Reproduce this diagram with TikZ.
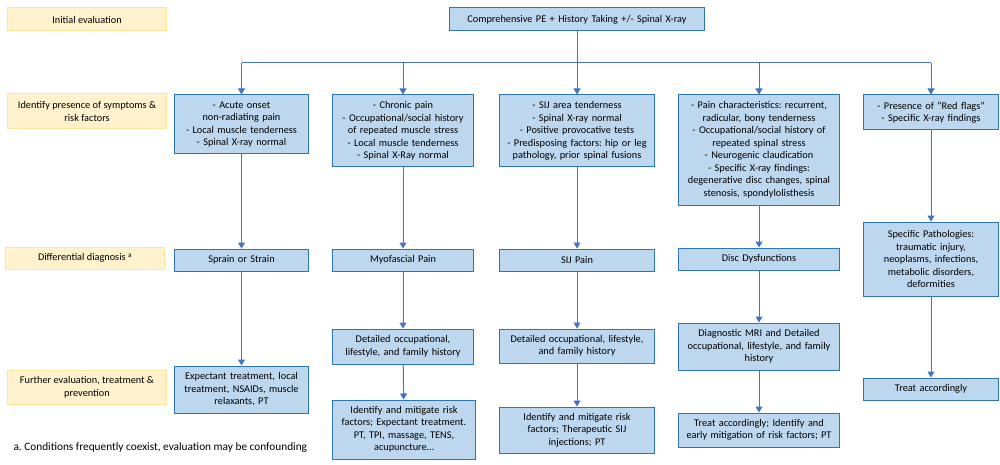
\documentclass[tikz,border=0pt]{standalone}
\usepackage{fontspec}
\setmainfont{Carlito}
\definecolor{bxfill}{HTML}{BDD7EE}
\definecolor{bxline}{HTML}{2E75B6}
\definecolor{lbfill}{HTML}{FFF2CC}
\definecolor{lbline}{HTML}{FFE699}
\definecolor{arrblue}{HTML}{4472C4}
\usetikzlibrary{arrows.meta}
\frenchspacing

\begin{document}
\begin{tikzpicture}[
  x=1pt,y=-1pt,
  font=\fontsize{10.3}{12.5}\selectfont,
  bx/.style={draw=bxline,line width=1pt,fill=bxfill,align=center,inner xsep=3pt,inner ysep=2pt,text width=#1},
  lb/.style={draw=lbline,line width=1pt,fill=lbfill,align=center,inner sep=2pt,minimum width=159pt},
  ln/.style={arrblue,line width=1pt},
  fl/.style={-{Triangle[length=6pt,width=7pt]},arrblue,line width=1pt}]
\useasboundingbox (0,0) rectangle (1000,465);
% row labels
\node[lb,minimum height=23pt] (l1) at (87,19.5) {Initial evaluation};
\node[lb,minimum height=35pt] (l2) at (87,111.5) {Identify presence of symptoms \&\\ risk factors};
\node[lb,minimum height=22pt] (l3) at (85,258) {Differential diagnosis $^{\mathrm{a}}$};
\node[lb,minimum height=34pt] (l4) at (87,387) {Further evaluation, treatment \&\\ prevention};
% top
\node[bx=249pt,minimum height=23pt] (top) at (577,19.5) {Comprehensive PE + History Taking +/- Spinal X-ray};
% symptoms
\node[bx=128pt,minimum height=59pt] (s1) at (241.5,124.5) {- Acute onset\\ non-radiating pain\\ - Local muscle tenderness\\ - Spinal X-ray normal};
\node[bx=135pt,minimum height=72pt] (s2) at (403,131) {- Chronic pain\\ - Occupational/social history\\ of repeated muscle stress\\ - Local muscle tenderness\\ - Spinal X-Ray normal};
\node[bx=149pt,minimum height=72pt] (s3) at (577,131) {- SIJ area tenderness\\ - Spinal X-ray normal\\ - Positive provocative tests\\ - Predisposing factors: hip or leg\\ pathology, prior spinal fusions};
\node[bx=155pt,minimum height=110pt] (s4) at (759,150) {- Pain characteristics: recurrent,\\ radicular, bony tenderness\\ - Occupational/social history of\\ repeated spinal stress\\ - Neurogenic claudication\\ - Specific X-ray findings:\\ degenerative disc changes, spinal\\ stenosis, spondylolisthesis};
\node[bx=129pt,minimum height=35pt] (s5) at (931,112.5) {- Presence of ``Red flags''\\ - Specific X-ray findings};
% diagnoses
\node[bx=128pt,minimum height=22pt] (d1) at (241.5,260) {Sprain or Strain};
\node[bx=135pt,minimum height=22pt] (d2) at (403,260) {Myofascial Pain};
\node[bx=149pt,minimum height=22pt] (d3) at (577,260) {SIJ Pain};
\node[bx=155pt,minimum height=22pt] (d4) at (759,259) {Disc Dysfunctions};
\node[bx=129pt,minimum height=74pt] (d5) at (931,259) {Specific Pathologies:\\ traumatic injury,\\ neoplasms, infections,\\ metabolic disorders,\\ deformities};
% further evaluation
\node[bx=135pt,minimum height=35pt] (h2) at (403,346.5) {Detailed occupational,\\ lifestyle, and family history};
\node[bx=149pt,minimum height=34pt] (h3) at (577,346) {Detailed occupational, lifestyle,\\ and family history};
\node[bx=155pt,minimum height=47pt] (h4) at (759,346.5) {Diagnostic MRI and Detailed\\ occupational, lifestyle, and family\\ history};
\node[bx=129pt,minimum height=22pt] (h5) at (931,389) {Treat accordingly};
% treatment
\node[bx=128pt,minimum height=47pt] (t1) at (241.5,389.5) {Expectant treatment, local\\ treatment, NSAIDs, muscle\\ relaxants, PT};
\node[bx=137pt,minimum height=59pt] (t2) at (404,429.5) {Identify and mitigate risk\\ factors; Expectant treatment.\\ PT, TPI, massage, TENS,\\ acupuncture\dots};
\node[bx=149pt,minimum height=46pt] (t3) at (577,430) {Identify and mitigate risk\\ factors; Therapeutic SIJ\\ injections; PT};
\node[bx=155pt,minimum height=34pt] (t4) at (759,430) {Treat accordingly; Identify and\\ early mitigation of risk factors; PT};
% footnote
\node[anchor=west,font=\fontsize{11.3}{13}\selectfont] (fn) at (10,448) {a. Conditions frequently coexist, evaluation may be confounding};
% connectors
\coordinate (bus) at (577,63);
\draw[ln] (s1.north |- bus) -- (s5.north |- bus);
\draw[fl] (top) -- (s3);
\draw[fl] (s1.north |- bus) -- (s1.north);
\draw[fl] (s2.north |- bus) -- (s2.north);
\draw[fl] (s4.north |- bus) -- (s4.north);
\draw[fl] (s5.north |- bus) -- (s5.north);
\draw[fl] (s1) -- (d1); \draw[fl] (s2) -- (d2); \draw[fl] (s3) -- (d3);
\draw[fl] (s4) -- (d4); \draw[fl] (s5) -- (d5);
\draw[fl] (d1) -- (t1); \draw[fl] (d2) -- (h2); \draw[fl] (d3) -- (h3);
\draw[fl] (d4) -- (h4); \draw[fl] (d5) -- (h5);
\draw[fl] (h2) -- (t2); \draw[fl] (h3) -- (t3); \draw[fl] (h4) -- (t4);
\end{tikzpicture}
\end{document}
